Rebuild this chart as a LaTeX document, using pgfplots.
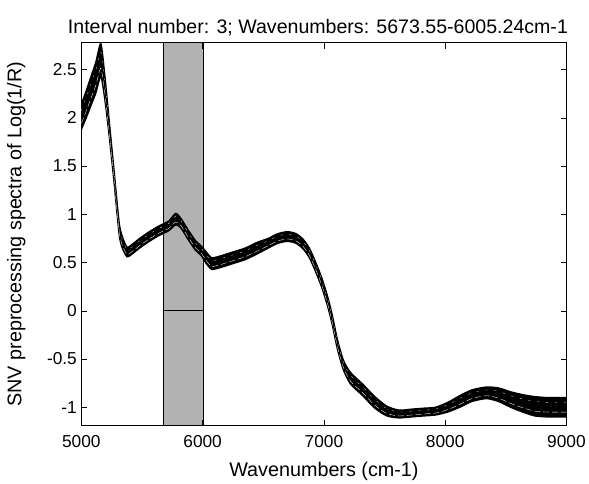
\documentclass[border=0pt]{standalone}
\usepackage{fontspec}
\setmainfont{Liberation Sans}
\usepackage{pgfplots}
\pgfplotsset{compat=1.18}
\usepackage{pgfplotstable}
\usepgfplotslibrary{fillbetween}

% spectra bundle: wavenumber, five spectra
\pgfplotstableread{
w     y1    y2     y3    y4     y5
5000  1.88  1.945  2.01  2.075  2.14
5040  2.00  2.07   2.14  2.21   2.28
5080  2.13  2.205  2.28  2.355  2.43
5120  2.26  2.34   2.42  2.50   2.58
5161  2.43  2.515  2.60  2.685  2.77
5195  2.18  2.24   2.30  2.36   2.42
5229  1.82  1.86   1.90  1.94   1.98
5270  1.33  1.36   1.39  1.42   1.45
5311  0.80  0.83   0.86  0.89   0.92
5335  0.66  0.69   0.72  0.75   0.78
5376  0.56  0.585  0.61  0.635  0.66
5420  0.59  0.615  0.64  0.665  0.69
5480  0.65  0.675  0.70  0.725  0.75
5560  0.72  0.745  0.77  0.795  0.82
5640  0.78  0.805  0.83  0.855  0.88
5720  0.83  0.855  0.88  0.905  0.93
5777  0.89  0.92   0.95  0.98   1.01
5820  0.86  0.885  0.91  0.935  0.96
5880  0.74  0.765  0.79  0.815  0.84
5940  0.63  0.655  0.68  0.705  0.73
5990  0.57  0.595  0.62  0.645  0.67
6030  0.49  0.52   0.55  0.58   0.61
6075  0.43  0.46   0.49  0.52   0.55
6150  0.45  0.48   0.51  0.54   0.57
6250  0.49  0.52   0.55  0.58   0.61
6350  0.53  0.56   0.59  0.62   0.65
6450  0.59  0.62   0.65  0.68   0.71
6540  0.65  0.675  0.70  0.725  0.75
6620  0.70  0.725  0.75  0.775  0.80
6700  0.72  0.745  0.77  0.795  0.82
6770  0.70  0.725  0.75  0.775  0.80
6830  0.64  0.665  0.69  0.715  0.74
6880  0.55  0.575  0.60  0.625  0.65
6930  0.41  0.435  0.46  0.485  0.51
6980  0.25  0.275  0.30  0.325  0.35
7030  0.05  0.075  0.10  0.125  0.15
7070 -0.15 -0.125 -0.10 -0.075 -0.05
7110 -0.39 -0.365 -0.34 -0.315 -0.29
7160 -0.61 -0.585 -0.56 -0.535 -0.51
7220 -0.76 -0.73  -0.70 -0.67  -0.64
7320 -0.88 -0.85  -0.82 -0.79  -0.76
7420 -1.01 -0.98  -0.95 -0.92  -0.89
7520 -1.09 -1.065 -1.04 -1.015 -0.99
7620 -1.11 -1.09  -1.07 -1.05  -1.03
7720 -1.10 -1.08  -1.06 -1.04  -1.02
7820 -1.09 -1.07  -1.05 -1.03  -1.01
7920 -1.08 -1.06  -1.04 -1.02  -1.00
8020 -1.05 -1.025 -1.00 -0.975 -0.95
8120 -1.00 -0.97  -0.94 -0.91  -0.88
8220 -0.94 -0.91  -0.88 -0.85  -0.82
8340 -0.91 -0.88  -0.85 -0.82  -0.79
8440 -0.94 -0.905 -0.87 -0.835 -0.80
8540 -1.00 -0.96  -0.92 -0.88  -0.84
8640 -1.05 -1.005 -0.96 -0.915 -0.87
8740 -1.09 -1.04  -0.99 -0.94  -0.89
8850 -1.10 -1.05  -1.00 -0.95  -0.90
9000 -1.10 -1.05  -1.00 -0.95  -0.90
}\spectra

\begin{document}
\begin{tikzpicture}
\begin{axis}[
    at={(0,0)}, anchor=south west,
    scale only axis,
    width=489bp, height=386bp,
    xmin=5000, xmax=9000,
    ymin=-1.19, ymax=2.78,
    xtick={5000,6000,7000,8000,9000},
    ytick={-1,-0.5,0,0.5,1,1.5,2,2.5},
    tick align=inside,
    tick pos=both,
    major tick length=6bp,
    /pgf/number format/assume math mode=true,
    /pgf/number format/1000 sep={},
    tick label style={font=\fontsize{17.5}{19}\selectfont},
    xticklabel style={yshift=-6bp},
    yticklabel style={xshift=-1bp},
    xlabel={Wavenumbers (cm-1)},
    ylabel={SNV preprocessing spectra of Log(1/R)},
    label style={font=\fontsize{20}{22}\selectfont},
    xlabel style={yshift=-8bp},
    ylabel style={yshift=15bp},
    title={Interval number: 3; Wavenumbers: 5673.55-6005.24cm-1},
    title style={font=\fontsize{19.8}{22}\selectfont, yshift=-3bp, xshift=-6bp},
    axis line style={line width=0.8pt},
    every tick/.style={black, line width=0.6pt},
    clip=true,
]
\addplot[fill=black!30, draw=black, line width=0.8pt, on layer=axis background] coordinates {
    (5673.55,-1.19) (5673.55,2.78) (6005.24,2.78) (6005.24,-1.19)} -- cycle;
\addplot[black, line width=0.8pt, on layer=axis background] coordinates {(5673.55,0) (6005.24,0)};
\addplot[name path=lo, black, line width=1.4pt, smooth, tension=0.4] table[x=w, y=y1] {\spectra};
\addplot[name path=hi, black, line width=1.4pt, smooth, tension=0.4] table[x=w, y=y5] {\spectra};
\addplot[black] fill between[of=lo and hi];
\addplot[white, line width=0.35pt, smooth, tension=0.4, dash pattern=on 6pt off 3pt] table[x=w, y=y2] {\spectra};
\addplot[white, line width=0.3pt, smooth, tension=0.4, dash pattern=on 2pt off 7pt] table[x=w, y=y4] {\spectra};
\end{axis}
\useasboundingbox (-82bp,-50bp) rectangle (507bp,429bp);
\end{tikzpicture}
\end{document}
